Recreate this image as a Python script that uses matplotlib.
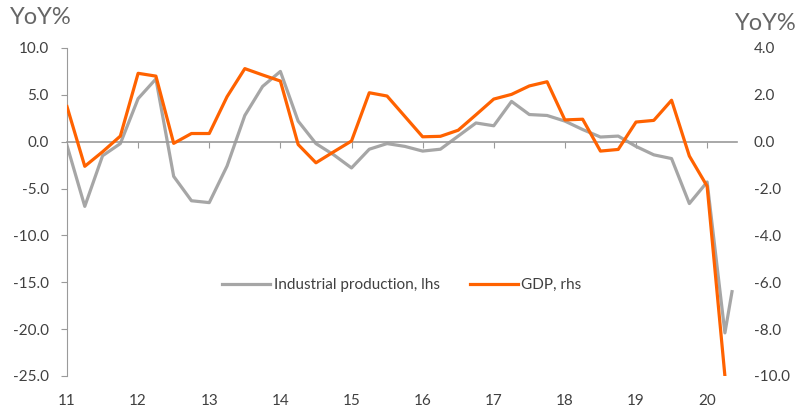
import numpy as np
import matplotlib
matplotlib.use("Agg")
from matplotlib import pyplot as plt

plt.rcParams['font.family'] = ['Lato', 'DejaVu Sans']

# Quarterly data, 2011Q1 .. 2020Q2
quarters = 2011 + np.arange(38) / 4
ip_values = [-0.4, -6.9, -1.5, -0.2, 4.6, 6.7, -3.7, -6.3,
             -6.5, -2.6, 2.8, 5.9, 7.5, 2.2, -0.2, -1.4,
             -2.8, -0.8, -0.2, -0.5, -1.0, -0.8, 0.6, 2.0,
             1.7, 4.3, 2.9, 2.8, 2.2, 1.3, 0.5, 0.6,
             -0.5, -1.4, -1.8, -6.6, -4.3, -20.4]
# latest monthly reading for industrial production
ip_extra_x = 2020.35
ip_extra_value = -16.0
gdp_values = [1.5, -1.05, -0.43, 0.24, 2.92, 2.80, -0.07, 0.35,
              0.35, 1.92, 3.12, 2.85, 2.59, -0.12, -0.90, -0.43,
              0.03, 2.09, 1.95, 1.08, 0.21, 0.23, 0.49, 1.15,
              1.82, 2.02, 2.38, 2.56, 0.93, 0.96, -0.40, -0.33,
              0.84, 0.91, 1.77, -0.61, -1.90, -10.0]
year_ticks = list(range(2011, 2021))
year_labels = ['11', '12', '13', '14', '15', '16', '17', '18', '19', '20']

grey = '#a6a6a6'
orange = '#ff6200'
text_col = '#404040'
axis_col = '#9a9a9a'

fig = plt.figure(figsize=(8, 4.12), dpi=100)
ax = fig.add_axes([0.08375, 0.0874, 0.8375, 0.7961])
ax2 = ax.twinx()

ip_x = list(quarters) + [ip_extra_x]
ip_y = ip_values + [ip_extra_value]
l1, = ax.plot(ip_x, ip_y, color=grey, lw=2.3, label='Industrial production, lhs')
l2, = ax2.plot(quarters, gdp_values, color=orange, lw=2.3, label='GDP, rhs')

ax.set_xlim(2011, 2020.42)
ax.set_ylim(-25, 10)
ax2.set_ylim(-10, 4)
ax.set_yticks(np.arange(-25, 10.1, 5))
ax.set_yticklabels([f'{v:.1f}' for v in np.arange(-25, 10.1, 5)])
ax2.set_yticks(np.arange(-10, 4.1, 2))
ax2.set_yticklabels([f'{v:.1f}' for v in np.arange(-10, 4.1, 2)])

for a in (ax, ax2):
    for s in ('top', 'right'):
        a.spines[s].set_visible(False)
ax2.spines['left'].set_visible(False)
ax2.spines['bottom'].set_visible(False)
ax.spines['left'].set_color(axis_col)
ax.spines['bottom'].set_position(('data', 0))
ax.spines['bottom'].set_color(axis_col)
ax.spines['bottom'].set_linewidth(1.2)

ax.tick_params(axis='y', direction='out', length=4, color=axis_col,
               labelsize=11, labelcolor=text_col, pad=9)
ax2.tick_params(axis='y', length=0, labelsize=11, labelcolor=text_col, pad=12)

# ticks hang from the zero line, labels sit below the plot
ax.set_xticks(year_ticks[1:])
ax.tick_params(axis='x', direction='out', length=4, color=axis_col, labelbottom=False)
sec = ax.secondary_xaxis('bottom')
sec.spines['bottom'].set_visible(False)
sec.set_xticks(year_ticks)
sec.set_xticklabels(year_labels)
sec.tick_params(length=0, labelsize=11, labelcolor=text_col, pad=13)

fig.text(0.0125, 0.958, 'YoY%', fontsize=17, color='#666666',
         ha='left', va='center')
fig.text(0.919, 0.943, 'YoY%', fontsize=17, color='#666666',
         ha='left', va='center')

ax.legend(handles=[l1, l2], loc='center', bbox_to_anchor=(0.5, 0.277), ncol=2,
          frameon=False, fontsize=11, handlelength=3.1, handletextpad=0.25,
          columnspacing=2.0, labelcolor=text_col)

fig.savefig('out.png', dpi=100)
